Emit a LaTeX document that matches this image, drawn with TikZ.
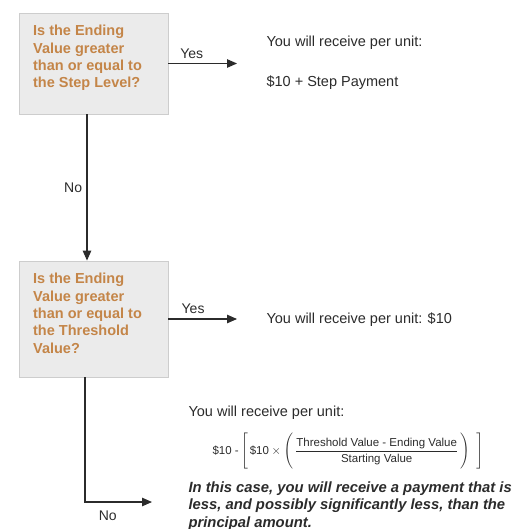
\documentclass[tikz,border=0pt]{standalone}
\usepackage{fontspec}
\usepackage{amsmath}
\setmainfont{Liberation Sans}
\usetikzlibrary{arrows.meta}
\definecolor{qorange}{HTML}{C48548}
\definecolor{qfill}{HTML}{EBEBEB}
\definecolor{qline}{HTML}{CDCDCD}
\definecolor{ink}{HTML}{2B2B2B}
\newcommand{\fracstrut}{\vphantom{\rule[-16pt]{0pt}{35pt}}}
\begin{document}
\begin{tikzpicture}[x=1pt, y=-1pt, line width=1.1pt, draw=ink,
  qbox/.style={rectangle, draw=qline, fill=qfill, line width=0.8pt, minimum width=149pt, inner sep=0pt},
  qtext/.style={anchor=north west, inner sep=0pt, align=left, text=qorange, font=\fontsize{14.5}{17.4}\selectfont\bfseries},
  result/.style={anchor=west, inner sep=0pt, text=ink, font=\fontsize{14.5}{16}\selectfont},
  lbl/.style={text=ink, font=\fontsize{14}{16}\selectfont},
  flow/.style={-{Triangle[length=10pt,width=8.5pt]}, draw=ink}]
\useasboundingbox (0,0) rectangle (520,529);
% decision boxes
\node[qbox, minimum height=101pt] (q1) at (93.5,63.5) {};
\node[qtext] (q1t) at ([shift={(14,12)}]q1.north west) {Is the Ending\\Value greater\\than or equal to\\the Step Level?};
\node[qbox, minimum height=116pt] (q2) at (93.5,319) {};
\node[qtext] (q2t) at ([shift={(14,12)}]q2.north west) {Is the Ending\\Value greater\\than or equal to\\the Threshold\\Value?};
% outcomes
\node[result] (r1) at (266,43) {You will receive per unit:};
\node[result] (r1b) at (266,83) {\$10 + Step Payment};
\node[result] (r2) at (266,320) {You will receive per unit: \$10};
\node[result] (r3) at (188,413) {You will receive per unit:};
\node[inner sep=0pt, text=ink, font=\fontsize{11.5}{13}\selectfont] (r3f) at (348,452)
  {$\text{\$10 -}\left[\,\text{\$10}\times\left(\,\dfrac{\text{Threshold Value - Ending Value}}{\text{Starting Value}}\fracstrut\,\right)\;\;\right]$};
\node[inner sep=0pt, anchor=north west, align=left, text=ink, font=\fontsize{14.8}{17.5}\selectfont\bfseries\itshape] (r3t) at (188,481)
  {In this case, you will receive a payment that is\\less, and possibly significantly less, than the\\principal amount.};
% connectors
\coordinate (y1) at (237,63.5);
\coordinate (y2) at (237,319);
\coordinate (n2) at (152,502);
\draw[flow] (q1.east) -- node[lbl, pos=0.34, above=1pt] {Yes} (y1);
\draw[flow] (q2.east) -- node[lbl, pos=0.36, above=1pt] {Yes} (y2);
\draw[flow] ([xshift=-6.5pt]q1.south) -- node[lbl, midway, left=1pt] {No} ([xshift=-6.5pt]q2.north);
\draw[flow] ([xshift=-8.5pt]q2.south) |- node[lbl, pos=0.67, below=5pt] {No} (n2);
\end{tikzpicture}
\end{document}
